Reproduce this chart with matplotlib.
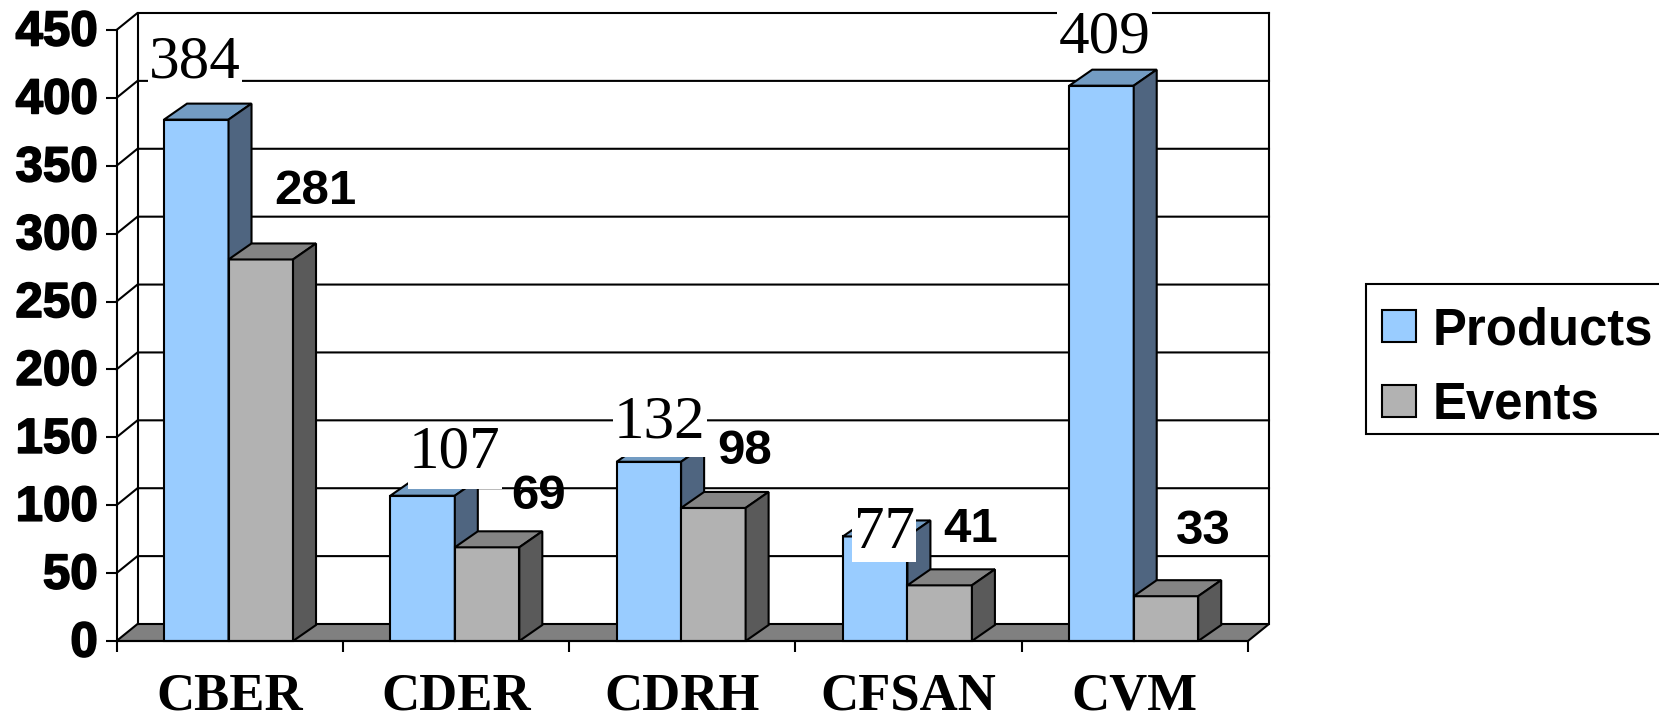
import matplotlib
matplotlib.use('Agg')
import matplotlib.pyplot as plt
import matplotlib.patheffects as pe
from matplotlib.patches import Patch, Rectangle
from matplotlib.transforms import ScaledTranslation, IdentityTransform

categories = ['CBER', 'CDER', 'CDRH', 'CFSAN', 'CVM']
products = [384, 107, 132, 77, 409]
events = [281, 69, 98, 41, 33]
y_ticks = [0, 50, 100, 150, 200, 250, 300, 350, 400, 450]

# label offsets from the bar top, pixels
products_off = [(-1, 57), (32, 43), (11, 39), (9, 3), (3, 48)]
events_off = [(55, 68), (51, 51), (31, 56), (31, 56), (37, 65)]
# the white box behind the label reaches lower on some bars
mask_extra = [0, 7, 5, 0, 0]

W, H = 1659, 717
fig = plt.figure(figsize=(W / 100, H / 100), dpi=100)
# axes = front plane of the fake 3d box
left, right, top, bottom = 116.5, 1248, 30, 641
ax = fig.add_axes([left / W, 1 - bottom / H, (right - left) / W, (bottom - top) / H])
ax.set_xlim(0, 5)
ax.set_ylim(0, 450)
ax.patch.set_visible(False)

px_x = 5 / (right - left)
px_y = 450 / (bottom - top)
wall_dx, wall_dy = 21 * px_x, 17 * px_y
bar_dx, bar_dy = 23 * px_x, 16 * px_y
bar_w = 64.5 * px_x
lw = 1.5

# floor
ax.fill([0, 5, 5 + wall_dx, wall_dx], [0, 0, wall_dy, wall_dy], fc='#808080', ec='black', lw=lw, clip_on=False, zorder=1)

# walls and grid
for v in y_ticks[1:]:
    ax.plot([0, wall_dx, 5 + wall_dx], [v, v + wall_dy, v + wall_dy], color='black', lw=lw, clip_on=False, zorder=1)
ax.plot([wall_dx, wall_dx], [wall_dy, 450 + wall_dy], color='black', lw=lw, clip_on=False, zorder=1)
ax.plot([5 + wall_dx, 5 + wall_dx], [wall_dy, 450 + wall_dy], color='black', lw=lw, clip_on=False, zorder=1)


def box(x, v, front, top_c, side_c, z):
    ax.bar(x, v, bar_w, align='edge', color=front, edgecolor='black', lw=lw, zorder=z, clip_on=False)
    ax.fill([x, x + bar_w, x + bar_w + bar_dx, x + bar_dx], [v, v, v + bar_dy, v + bar_dy],
            fc=top_c, ec='black', lw=lw, zorder=z, clip_on=False)
    ax.fill([x + bar_w, x + bar_w + bar_dx, x + bar_w + bar_dx, x + bar_w], [0, bar_dy, v + bar_dy, v],
            fc=side_c, ec='black', lw=lw, zorder=z, clip_on=False)


product_labels = []
for i in range(len(categories)):
    x0 = i + 0.5 - bar_w - 0.005
    box(x0, products[i], '#99CCFF', '#739CC3', '#4F6580', 2 + i * 2)
    box(x0 + bar_w, events[i], '#B2B2B2', '#848484', '#5A5A5A', 3 + i * 2)

    t = ax.annotate(str(products[i]), (x0 + bar_w / 2, products[i]), xytext=products_off[i], textcoords='offset pixels',
                    ha='center', va='center', fontsize=44, family='Liberation Serif', zorder=20,
                    bbox=dict(fc='white', ec='none', pad=1))
    product_labels.append(t)
    ax.annotate(str(events[i]), (x0 + bar_w * 1.5, events[i]), xytext=events_off[i], textcoords='offset pixels',
                ha='center', va='center', fontsize=35.5, family='Liberation Sans', weight='bold', zorder=21)

# axes ticks
for s in ['top', 'right']:
    ax.spines[s].set_visible(False)
for s in ['left', 'bottom']:
    ax.spines[s].set_linewidth(lw)
    ax.spines[s].set_zorder(15)
ax.set_yticks(y_ticks)
ax.set_yticklabels([str(v) for v in y_ticks], family='Liberation Sans', weight='bold', fontsize=35.5,
                   path_effects=[pe.withStroke(linewidth=1.2, foreground='black')])
ax.set_xticks(range(6))
ax.set_xticklabels([])
ax.set_xticks([i + 0.5 for i in range(5)], minor=True)
ax.set_xticklabels(categories, minor=True, family='Liberation Serif', weight='bold', fontsize=38)
ax.tick_params(axis='both', which='major', length=8, width=lw, direction='out')
ax.tick_params(axis='y', pad=5.5)
ax.tick_params(axis='x', which='minor', length=0, pad=23)
shift = ScaledTranslation(0, 2 / 100, fig.dpi_scale_trans)
for lab in ax.get_yticklabels():
    lab.set_transform(lab.get_transform() + shift)

# legend frame drawn apart, the rows do not sit centred in it
fig.add_artist(Rectangle((1365.5 / W, 1 - 434 / H), 320 / W, 150.5 / H, transform=fig.transFigure,
                         fc='white', ec='black', lw=lw))
handles = [Patch(fc='#99CCFF', ec='black', lw=lw), Patch(fc='#B2B2B2', ec='black', lw=lw)]
leg = fig.legend(handles, ['Products', 'Events'], loc='upper left',
                 bbox_to_anchor=(1365.5 / W, 1 - 290 / H), borderaxespad=0,
                 prop=dict(family='Liberation Sans', weight='bold', size=36.6),
                 borderpad=0.32, handlelength=0.67, handleheight=0.6, handletextpad=0.33,
                 labelspacing=0.5, frameon=False)
leg.set_zorder(5)

# stretch the white boxes down where the reference has them longer
fig.canvas.draw()
rend = fig.canvas.get_renderer()
for t, extra in zip(product_labels, mask_extra):
    if extra:
        bb = t.get_bbox_patch().get_window_extent(rend)
        ax.add_patch(Rectangle((bb.x0, bb.y0 - extra), bb.width, extra + 1, transform=IdentityTransform(),
                               fc='white', ec='none', zorder=19, clip_on=False))

fig.savefig('out.png', dpi=100)
